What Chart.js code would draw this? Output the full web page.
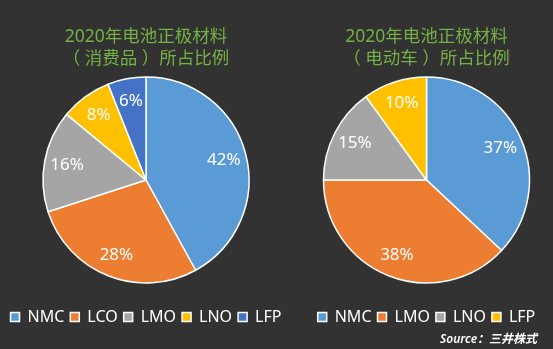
<!DOCTYPE html>
<html>
<head>
<meta charset="utf-8">
<script src="https://cdn.jsdelivr.net/npm/chart.js@4"></script>
<style>
  html, body { margin: 0; padding: 0; }
  body { width: 553px; height: 349px; background: #323232; position: relative; overflow: hidden; }
  #left { position: absolute; left: 0; top: 0; }
  #right { position: absolute; left: 300px; top: 0; }
  .source {
    position: absolute; left: 440px; top: 329px;
    color: #fff; font: italic 600 12px "Noto Sans", "Noto Sans CJK SC", sans-serif;
  }
</style>
</head>
<body>
<canvas id="left" width="292" height="349"></canvas>
<canvas id="right" width="253" height="349"></canvas>
<div class="source">Source：三井株式</div>

<script>
// consumer electronics
const consumerLabels = ['NMC', 'LCO', 'LMO', 'LNO', 'LFP'];
const consumerShare = [42, 28, 16, 8, 6];
const consumerColors = ['#5b9bd5', '#ed7d31', '#a5a5a5', '#ffc000', '#4472c4'];
const consumerTitle = ['2020年电池正极材料', '（ 消费品 ）所占比例'];

// electric vehicles
const evLabels = ['NMC', 'LMO', 'LNO', 'LFP'];
const evShare = [37, 38, 15, 10];
const evColors = ['#5b9bd5', '#ed7d31', '#a5a5a5', '#ffc000'];
const evTitle = ['2020年电池正极材料', '（ 电动车 ）所占比例'];

const fontFam = '"Noto Sans", "Noto Sans CJK SC", sans-serif';

// draw the % inside each slice
const pctLabels = {
  id: 'pctLabels',
  afterDatasetsDraw(chart) {
    const ctx = chart.ctx;
    const meta = chart.getDatasetMeta(0);
    const vals = chart.data.datasets[0].data;
    ctx.save();
    ctx.fillStyle = '#fff';
    ctx.font = '17px ' + fontFam;
    ctx.textAlign = 'center';
    ctx.textBaseline = 'middle';
    meta.data.forEach((arc, i) => {
      const p = arc.getProps(['x', 'y', 'startAngle', 'endAngle', 'outerRadius']);
      const mid = (p.startAngle + p.endAngle) / 2;
      const r = p.outerRadius * 0.78;
      ctx.fillText(vals[i] + '%', p.x + Math.cos(mid) * r, p.y + Math.sin(mid) * r);
    });
    ctx.restore();
  }
};

function makePie(id, labels, values, colors, title) {
  return new Chart(document.getElementById(id), {
    type: 'pie',
    data: {
      labels: labels,
      datasets: [{
        data: values,
        backgroundColor: colors,
        borderColor: '#ffffff',
        borderWidth: 1.5,
        radius: 103
      }]
    },
    options: {
      responsive: false,
      animation: false,
      layout: { padding: { bottom: 14 } },
      plugins: {
        title: {
          display: true,
          text: title,
          color: '#74b043',
          font: { family: fontFam, size: 17.5, weight: 'normal', lineHeight: 1.257 },
          padding: { top: 26.5, bottom: -13.5 }
        },
        legend: {
          position: 'bottom',
          labels: {
            color: '#ffffff',
            boxWidth: 9,
            boxHeight: 9,
            padding: 6,
            font: { family: fontFam, size: 16 }
          }
        },
        tooltip: { enabled: false }
      }
    },
    plugins: [pctLabels]
  });
}

makePie('left', consumerLabels, consumerShare, consumerColors, consumerTitle);
makePie('right', evLabels, evShare, evColors, evTitle);
</script>
</body>
</html>
